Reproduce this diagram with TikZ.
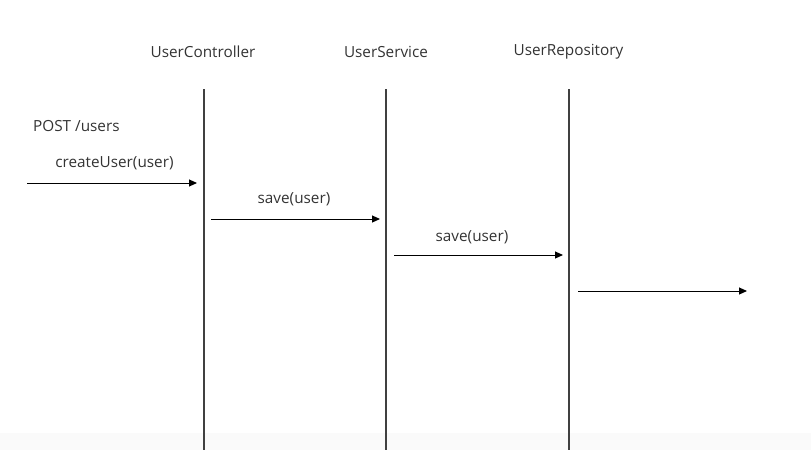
\documentclass[tikz,border=0pt]{standalone}
\usepackage{fontspec}
\setmainfont{Open Sans}
\usetikzlibrary{arrows.meta}
\begin{document}
\begin{tikzpicture}[x=1pt,y=-1pt,
  lbl/.style={inner sep=0pt,font=\fontsize{15.3}{17}\selectfont,text=black!80},
  life/.style={draw=black!75,line width=1.1pt},
  msg/.style={draw=black,line width=1pt,-{Triangle[length=8pt,width=7pt]}}]
\useasboundingbox (0,0) rectangle (811,450);
\fill[black!2] (0,433) rectangle (811,450);
% headers
\node[lbl] (hc) at (203,52) {UserController};
\node[lbl] (hs) at (386,52) {UserService};
\node[lbl] (hr) at (568.5,52) {UserRepository};
% lifelines
\coordinate (ct) at (204,89); \coordinate (cb) at (204,450);
\coordinate (st) at (386,89); \coordinate (sb) at (386,450);
\coordinate (rt) at (569,89); \coordinate (rb) at (569,450);
\draw[life] (ct) -- (cb);
\draw[life] (st) -- (sb);
\draw[life] (rt) -- (rb);
% messages
\node[lbl,anchor=west] (post) at (33,126) {POST /users};
\coordinate (m1a) at (27,183); \coordinate (m1b) at (197,183);
\draw[msg] (m1a) -- (m1b);
\node[lbl] (l1) at (114.5,163) {createUser(user)};
\coordinate (m2a) at (211,219); \coordinate (m2b) at (380,219);
\draw[msg] (m2a) -- (m2b);
\node[lbl] (l2) at (294,199) {save(user)};
\coordinate (m3a) at (394,255); \coordinate (m3b) at (563,255);
\draw[msg] (m3a) -- (m3b);
\node[lbl] (l3) at (472,237) {save(user)};
\coordinate (m4a) at (578,291); \coordinate (m4b) at (747,291);
\draw[msg] (m4a) -- (m4b);
\end{tikzpicture}
\end{document}
